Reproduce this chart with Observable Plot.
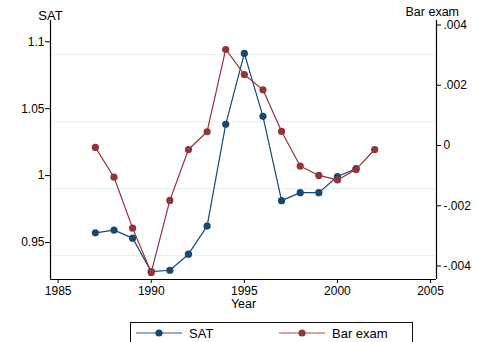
<!DOCTYPE html>
<html><head><meta charset="utf-8">
<script src="https://cdn.jsdelivr.net/npm/d3@7"></script>
<script src="https://cdn.jsdelivr.net/npm/@observablehq/plot@0.6"></script>
<style>
body{margin:0;background:#fff;font-family:"Liberation Sans",Arial,sans-serif;}
#wrap{position:relative;width:477px;height:342px;overflow:hidden;}
#legend{position:absolute;left:130px;top:322px;width:283px;height:40px;border:1px solid #111;box-sizing:border-box;font-size:13px;color:#000;}
.item{position:absolute;top:1px;display:flex;align-items:center;height:18px;}
.item svg{display:block;}
</style></head><body><div id="wrap"><div id="chart"></div><div id="legend"></div></div>
<script>
// ---- data ----
const satYears = [1987,1988,1989,1990,1991,1992,1993,1994,1995,1996,1997,1998,1999,2000,2001];
const satValues = [0.967,0.969,0.963,0.938,0.939,0.951,0.972,1.048,1.101,1.054,0.991,0.997,0.997,1.009,1.015];
const barYears = [1987,1988,1989,1990,1991,1992,1993,1994,1995,1996,1997,1998,1999,2000,2001,2002];
const barValues = [0.00007,-0.00092,-0.00261,-0.00408,-0.00169,0.0000,0.00059,0.00332,0.00249,0.00198,0.0006,-0.00055,-0.00086,-0.00101,-0.00066,0.0000];
const xTicks = [1985,1990,1995,2000,2005];
const leftTicks = [0.95,1,1.05,1.1];
const leftTickLabels = ["0.95","1","1.05","1.1"];
const rightTicks = [-0.004,-0.002,0,0.002,0.004];
const rightTickLabels = ["-.004","-.002","0",".002",".004"];
const seriesNames = ["SAT","Bar exam"];
const colors = ["#1a476f","#90353b"];

// ---- scales ----
const xDomain = [1984.59, 2005.32];
const leftDomain = [0.9321, 1.1256];
const rightDomain = [-0.004315, 0.004282];
const toLeft = d3.scaleLinear().domain(rightDomain).range(leftDomain);

const sat = satYears.map((y,i)=>({year:y, value:satValues[i]}));
const bar = barYears.map((y,i)=>({year:y, value:toLeft(barValues[i])}));
const rightMapped = rightTicks.map(t=>toLeft(t));
const rightLabelMap = new Map(rightMapped.map((v,i)=>[v,rightTickLabels[i]]));
const leftLabelMap = new Map(leftTicks.map((v,i)=>[v,leftTickLabels[i]]));

const chart = Plot.plot({
  width:477, height:314,
  marginLeft:50, marginRight:41, marginTop:20, marginBottom:35,
  style:{fontFamily:'"Liberation Sans", Arial, sans-serif', fontSize:"12px", color:"#000", background:"#fff"},
  x:{domain:xDomain},
  y:{domain:leftDomain},
  marks:[
    Plot.gridY(leftTicks,{stroke:"#e8f0f2", strokeOpacity:1, strokeWidth:1.2}),
    Plot.ruleX(xDomain,{stroke:"#000", strokeWidth:1.2}),
    Plot.ruleY([leftDomain[0]],{stroke:"#000", strokeWidth:1.2}),
    Plot.axisY(leftTicks,{anchor:"left", tickSize:5, tickPadding:1, dy:-13, fontSize:12, label:null, tickFormat:d=>leftLabelMap.get(d)}),
    Plot.axisY(rightMapped,{anchor:"right", tickSize:4, tickPadding:3, dy:-4, fontSize:12, label:null, tickFormat:d=>rightLabelMap.get(d)}),
    Plot.axisX(xTicks,{anchor:"bottom", tickSize:4, tickPadding:3, fontSize:12, label:null, tickFormat:d=>String(d)}),
    Plot.text(["Year"],{frameAnchor:"bottom", dy:28, fontSize:12.5}),
    Plot.text([seriesNames[0]],{frameAnchor:"top-left", dy:-10, textAnchor:"middle", fontSize:13}),
    Plot.text([seriesNames[1]],{frameAnchor:"top-right", dx:-31, dy:-13, textAnchor:"start", fontSize:12.5}),
    Plot.line(sat,{x:"year", y:"value", stroke:colors[0], strokeWidth:1.2}),
    Plot.dot(sat,{x:"year", y:"value", fill:colors[0], r:3.6}),
    Plot.line(bar,{x:"year", y:"value", stroke:colors[1], strokeWidth:1.2}),
    Plot.dot(bar,{x:"year", y:"value", fill:colors[1], r:3.6})
  ]
});
document.getElementById("chart").appendChild(chart);

// ---- legend ----
const legend = document.getElementById("legend");
const offsets = [{sw:4, tx:58},{sw:147, tx:201}];
seriesNames.forEach((name,i)=>{
  const it = document.createElement("div");
  it.className="item";
  it.style.left = offsets[i].sw+"px";
  it.innerHTML = `<svg width="48" height="18"><line x1="1" x2="47" y1="9" y2="9" stroke="${colors[i]}" stroke-opacity="0.6" stroke-width="1.3"/><circle cx="24" cy="9" r="3.6" fill="${colors[i]}"/></svg>`;
  const t = document.createElement("span");
  t.textContent = name;
  t.style.position="absolute"; t.style.left=(offsets[i].tx-offsets[i].sw)+"px"; t.style.whiteSpace="nowrap";
  it.appendChild(t);
  legend.appendChild(it);
});
</script>
</body></html>
